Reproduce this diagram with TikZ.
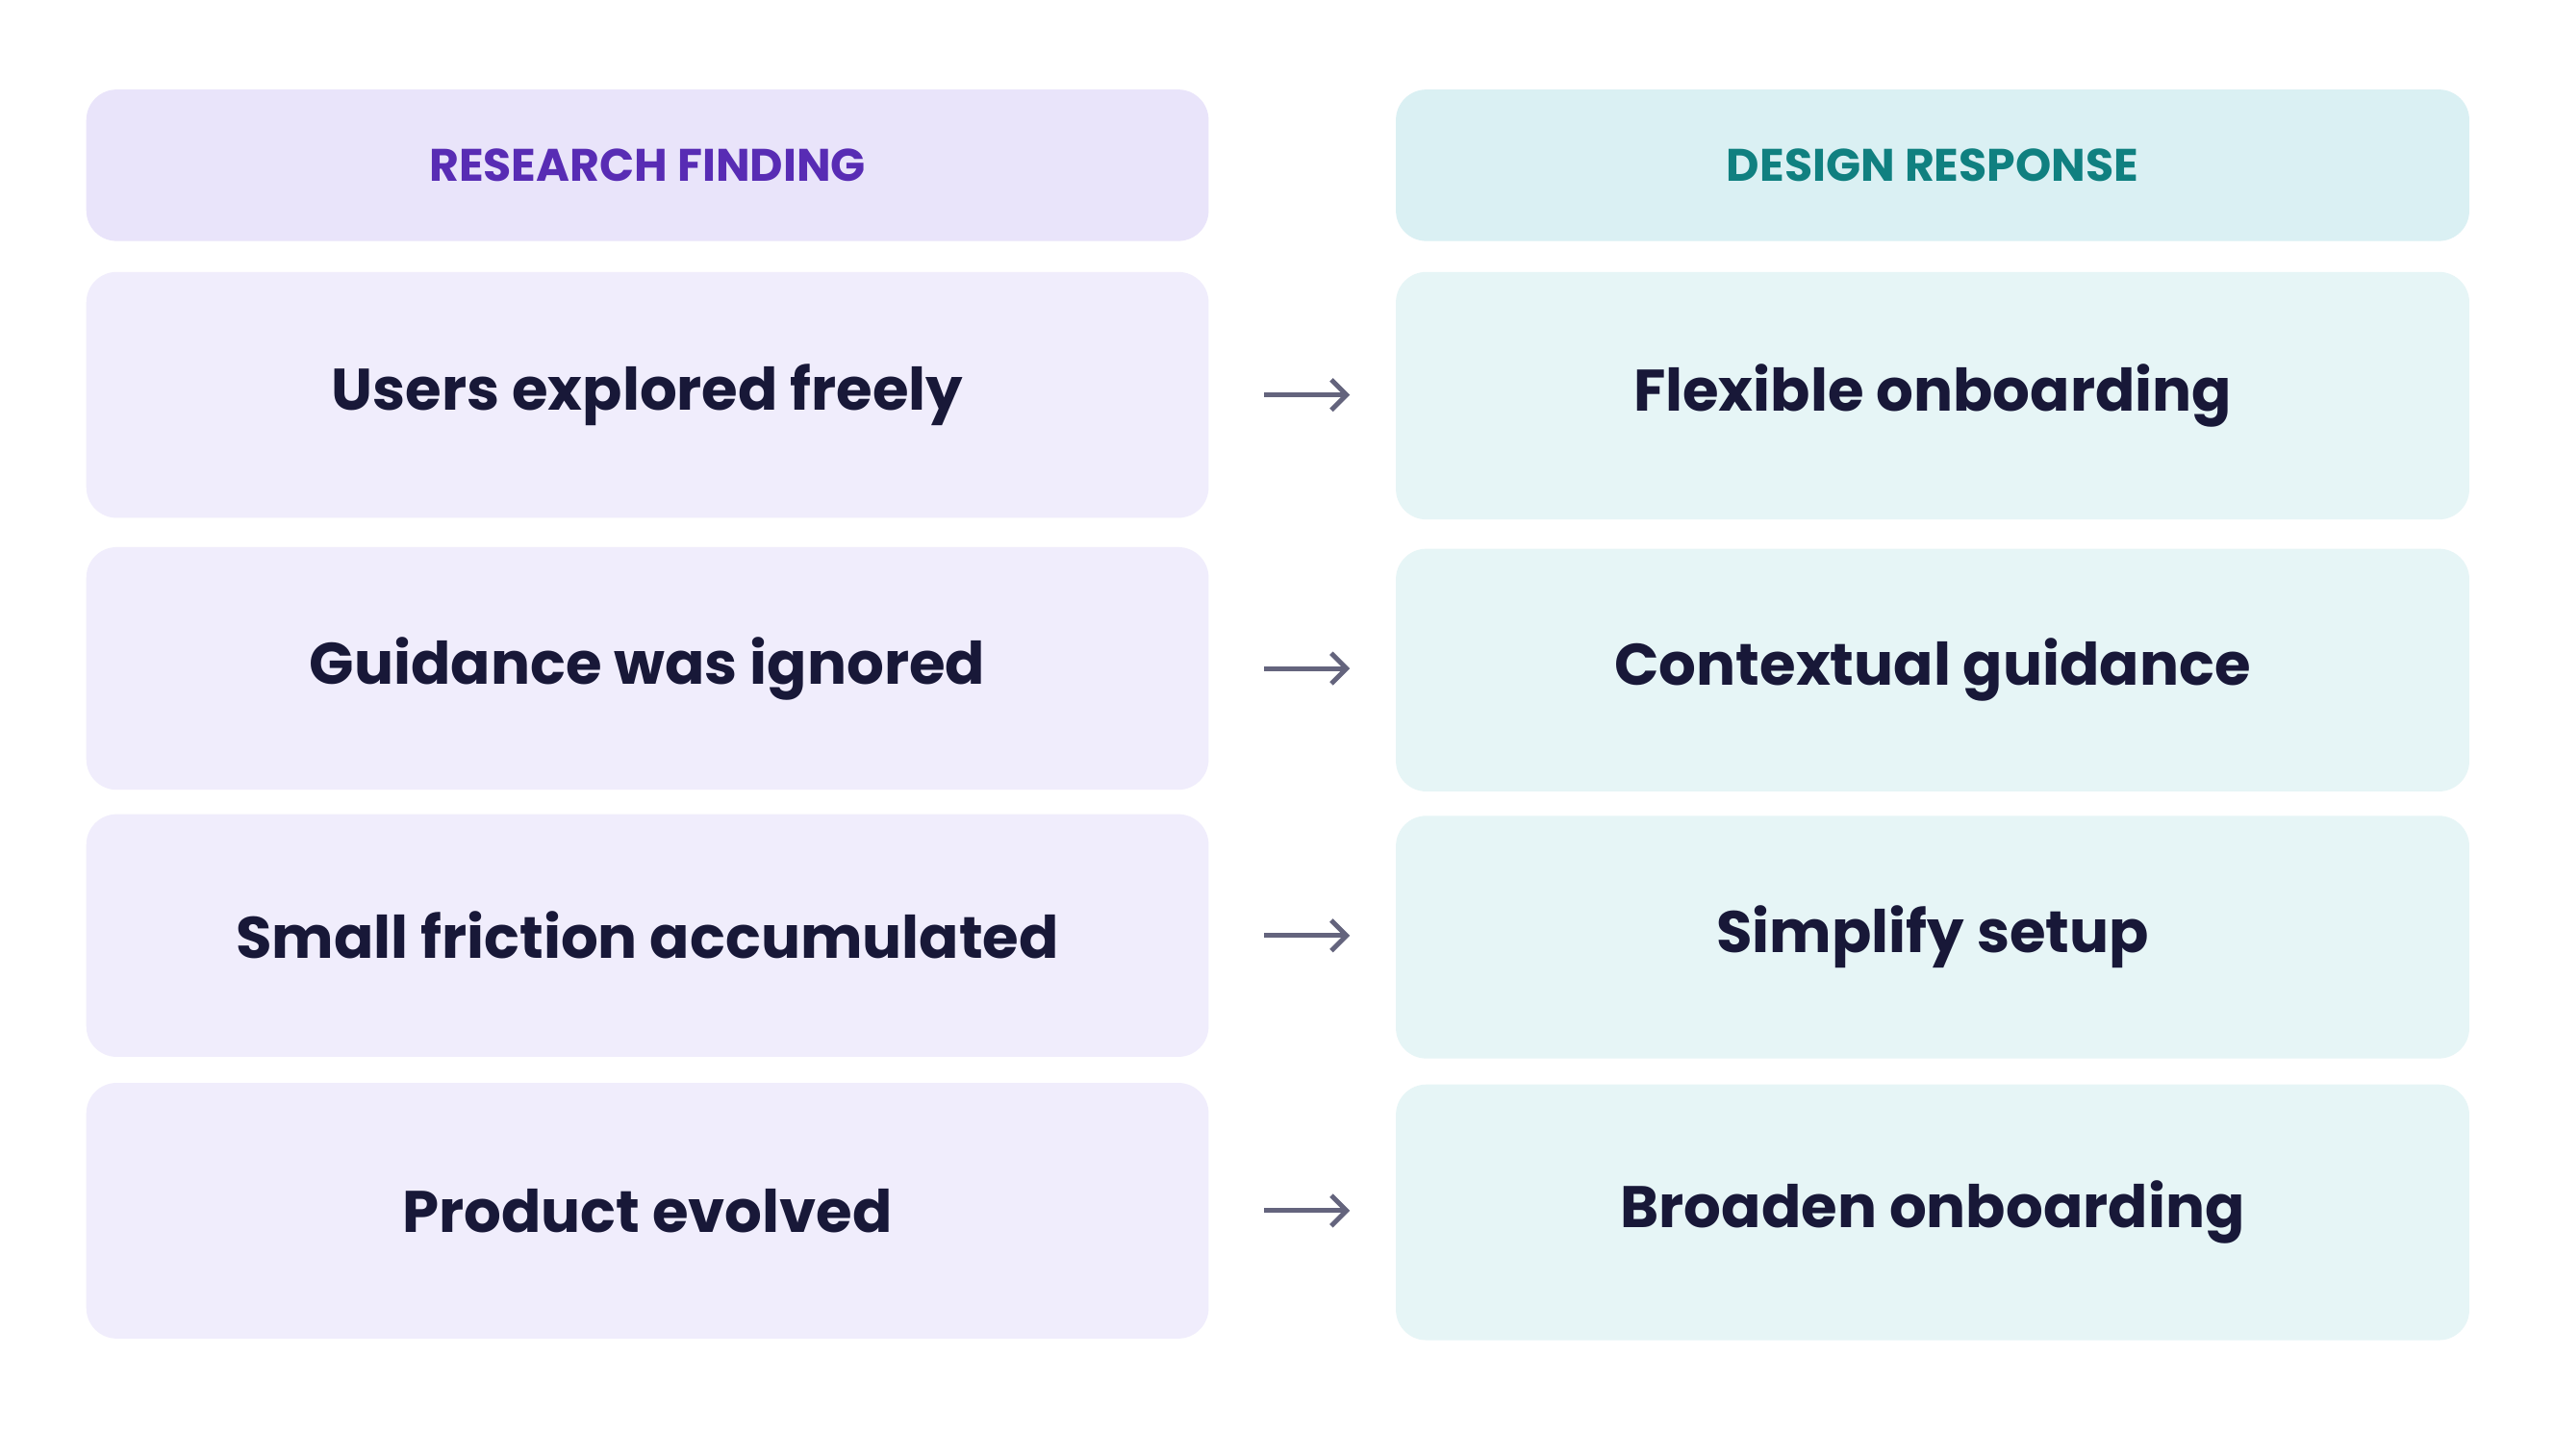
\documentclass[tikz,border=0pt]{standalone}
\usepackage{fontspec}
\setmainfont{Poppins}
\usetikzlibrary{arrows.meta}
\definecolor{findfill}{RGB}{240,237,252}
\definecolor{findhead}{RGB}{233,228,250}
\definecolor{findtext}{RGB}{88,44,180}
\definecolor{respfill}{RGB}{230,245,246}
\definecolor{resphead}{RGB}{218,240,243}
\definecolor{resptext}{RGB}{16,128,128}
\definecolor{inktext}{RGB}{24,24,56}
\definecolor{arrowgray}{RGB}{100,100,125}
\tikzset{
  card/.style={rounded corners=14pt, inner sep=0pt, text=inktext, font=\fontsize{27}{32}\selectfont\bfseries},
  head/.style={card, font=\fontsize{21}{26}\selectfont\bfseries},
  link/.style={draw=arrowgray, line width=2.2pt, -{Straight Barb[length=7pt,width=14pt]}, shorten <=25.5pt, shorten >=21pt}
}
\begin{document}
\begin{tikzpicture}[x=0.75pt,y=0.75pt,yscale=-1,xscale=1]
\useasboundingbox[fill=white] (0,0) rectangle (1568,894);

% headers
\node[head, fill=findhead, text=findtext, minimum width=516.75pt, minimum height=69.75pt] (fh) at (397.5,101.5) {RESEARCH FINDING};
\node[head, fill=resphead, text=resptext, minimum width=494.25pt, minimum height=69.75pt] (rh) at (1186.5,101.5) {DESIGN RESPONSE};

% rows
\node[card, fill=findfill, minimum width=516.75pt, minimum height=113.25pt] (f1) at (397.5,242.5) {Users explored freely};
\node[card, fill=findfill, minimum width=516.75pt, minimum height=111.75pt] (f2) at (397.5,410.5) {Guidance was ignored};
\node[card, fill=findfill, minimum width=516.75pt, minimum height=111.75pt] (f3) at (397.5,574.5) {Small friction accumulated};
\node[card, fill=findfill, minimum width=516.75pt, minimum height=117.75pt] (f4) at (397.5,743.5) {Product evolved};

\node[card, fill=respfill, minimum width=494.25pt, minimum height=114pt] (r1) at (1186.5,243) {Flexible onboarding};
\node[card, fill=respfill, minimum width=494.25pt, minimum height=111.75pt] (r2) at (1186.5,411.5) {Contextual guidance};
\node[card, fill=respfill, minimum width=494.25pt, minimum height=111.75pt] (r3) at (1186.5,575.5) {Simplify setup};
\node[card, fill=respfill, minimum width=494.25pt, minimum height=117.75pt] (r4) at (1186.5,744.5) {Broaden onboarding};

% links
\foreach \i in {1,...,4}
  \draw[link] (f\i.east) -- (f\i.east -| r\i.west);

\end{tikzpicture}
\end{document}
